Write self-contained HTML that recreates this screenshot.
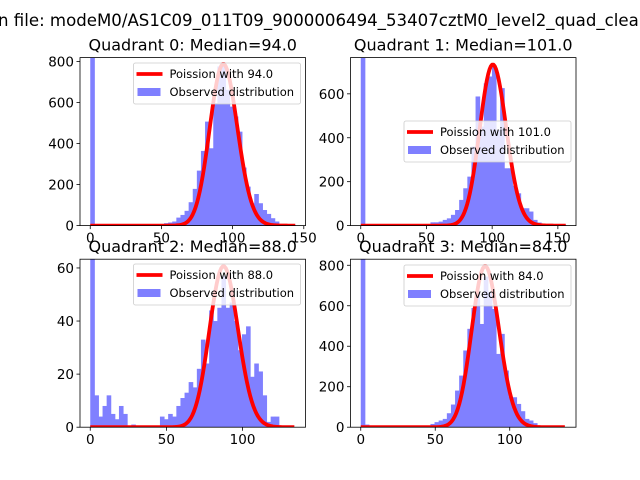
<!DOCTYPE html>
<html><head><meta charset="utf-8">
<style>
body{margin:0;background:#fff;}
svg{display:block;font-family:"DejaVu Sans","Liberation Sans",sans-serif;}
</style></head>
<body>
<svg id="fig" width="640" height="480" viewBox="0 0 640 480">
<rect width="640" height="480" fill="#fff"/>
<text x="-2" y="26" font-size="16.6" fill="#000">n file: modeM0/AS1C09_011T09_9000006494_53407cztM0_level2_quad_clean.evt</text>
</svg>
<script>
// Quadrant 0
const q0Counts=[3000,0,0,0,0,0,0,0,0,0,0,0,0,0,0,0,0,8,12,15,20,39,52,72,114,179,268,364,507,377,597,776,776,662,580,532,458,283,190,109,154,109,76,57,36,20,5,5,4,3];
// Quadrant 1
const q1Counts=[3000,0,0,0,3,3,2,0,3,0,0,0,0,0,0,0,0,15,15,18,26,33,49,71,117,170,223,360,588,451,648,679,724,436,626,261,261,182,147,79,79,64,26,14,3,3,3,3,3,3];
// Quadrant 2
const q2Counts=[100,12,4,8,12,5,3,8,5,0,1,0,0,0,0,0,0,4,3,5,4,8,11,13,17,15,22,33,24,44,40,45,57,45,47,40,29,35,38,19,24,21,12,2,4,4,0,0,0,0];
// Quadrant 3
const q3Counts=[3000,13,0,0,0,5,0,0,0,0,0,0,0,0,0,0,0,16,25,33,41,69,112,181,255,379,486,589,667,510,744,667,584,362,461,280,151,148,115,79,41,33,20,8,0,0,0,0,0,0];
const medians=[94.0,101.0,88.0,84.0];
const peakHeights=[787,733,60.6,795];
const dataMax=[144,156,134.6,137.6];
const yMaxes=[819,765,63.3,830];
const xTicks=[[0,50,100,150],[0,50,100,150],[0,50,100],[0,50,100]];
const yTicks=[[0,200,400,600,800],[0,200,400,600],[0,20,40,60],[0,200,400,600,800]];
const titles=["Quadrant 0: Median=94.0","Quadrant 1: Median=101.0","Quadrant 2: Median=88.0","Quadrant 3: Median=84.0"];
const legendRows=[63,121,264,265];
const allCounts=[q0Counts,q1Counts,q2Counts,q3Counts];

const NS="http://www.w3.org/2000/svg";
const svg=document.getElementById('fig');
function mk(tag,attrs,parent){const e=document.createElementNS(NS,tag);for(const k in attrs)e.setAttribute(k,attrs[k]);(parent||svg).appendChild(e);return e;}
function lgamma(x){
  if(x<7){let p=1;while(x<7){p*=x;x+=1;}return lgamma(x)-Math.log(p);}
  return (x-0.5)*Math.log(x)-x+0.5*Math.log(2*Math.PI)+1/(12*x)-1/(360*x*x*x);
}
const boxes=[[80,57.6,305.5,225.6],[350.5,57.6,576,225.6],[80,259.2,305.5,427.2],[350.5,259.2,576,427.2]];
for(let q=0;q<4;q++){
  const [L,T,R,B]=boxes[q];
  const xmax=dataMax[q];
  const x0=-0.05*xmax,x1=1.05*xmax;
  const X=v=>L+(v-x0)/(x1-x0)*(R-L);
  const Y=v=>B-(v/yMaxes[q])*(B-T);
  const g=mk('g',{});
  
  
  const cp=mk('clipPath',{id:'cp'+q},g);
  mk('rect',{x:L,y:T,width:R-L,height:B-T},cp);
  const plot=mk('g',{'clip-path':'url(#cp'+q+')'},g);
  const counts=allCounts[q];
  const bw=xmax/counts.length;
  const barG=mk('g',{fill:'#8080ff'},plot);
  counts.forEach((c,i)=>{
    if(c<=0)return;
    const r=mk('rect',{x:X(i*bw),y:Y(c),width:X((i+1)*bw)-X(i*bw)+0.5,height:B-Y(c)},barG);
    
    
  });
  const lam=medians[q];
  const ref=lam*Math.log(lam)-lam-lgamma(lam+1);
  let pts=[];
  for(let k=0;k<=Math.floor(xmax);k++){
    const lp=(k===0?-lam:k*Math.log(lam)-lam-lgamma(k+1));
    pts.push(X(k).toFixed(2)+','+Y(peakHeights[q]*Math.exp(lp-ref)).toFixed(2));
  }
  const line=mk('polyline',{points:pts.join(' '),fill:'none',stroke:'#ff0000','stroke-width':3.8,'stroke-linejoin':'round'},plot);
  
  
  mk('rect',{x:L,y:T,width:R-L,height:B-T,fill:'none',stroke:'#000','stroke-width':0.8},g);
  xTicks[q].forEach(t=>{
    const x=X(t);
    mk('line',{x1:x,x2:x,y1:B,y2:B+3.5,stroke:'#000','stroke-width':0.8},g);
    const tx=mk('text',{x:x,y:B+17,'font-size':13.5,'text-anchor':'middle'},g);tx.textContent=t;
    
    
  });
  yTicks[q].forEach(t=>{
    const y=Y(t);
    mk('line',{x1:L,x2:L-3.5,y1:y,y2:y,stroke:'#000','stroke-width':0.8},g);
    const tx=mk('text',{x:L-6,y:y+5,'font-size':13.5,'text-anchor':'end'},g);tx.textContent=t;
    
    
  });
  const ti=mk('text',{x:(L+R)/2,y:T-7,'font-size':16,'text-anchor':'middle'},g);
  ti.textContent=titles[q];
  
  
  const ly=legendRows[q], lx=R-172;
  const lg=mk('g',{},g);
  
  
  mk('rect',{x:lx,y:ly,width:167,height:41,rx:2,fill:'#fff','fill-opacity':0.8,stroke:'#cccccc','stroke-width':0.8},lg);
  mk('line',{x1:lx+3,x2:lx+29,y1:ly+11,y2:ly+11,stroke:'#ff0000','stroke-width':3.8},lg);
  const t1=mk('text',{x:lx+36,y:ly+15,'font-size':11.5},lg);t1.textContent='Poission with '+medians[q].toFixed(1);
  
  
  mk('rect',{x:lx+4,y:ly+25,width:23,height:8,fill:'#0000ff','fill-opacity':0.5},lg);
  const t2=mk('text',{x:lx+36,y:ly+33,'font-size':11.5},lg);t2.textContent='Observed distribution';
  
  
}
</script>
</body></html>
